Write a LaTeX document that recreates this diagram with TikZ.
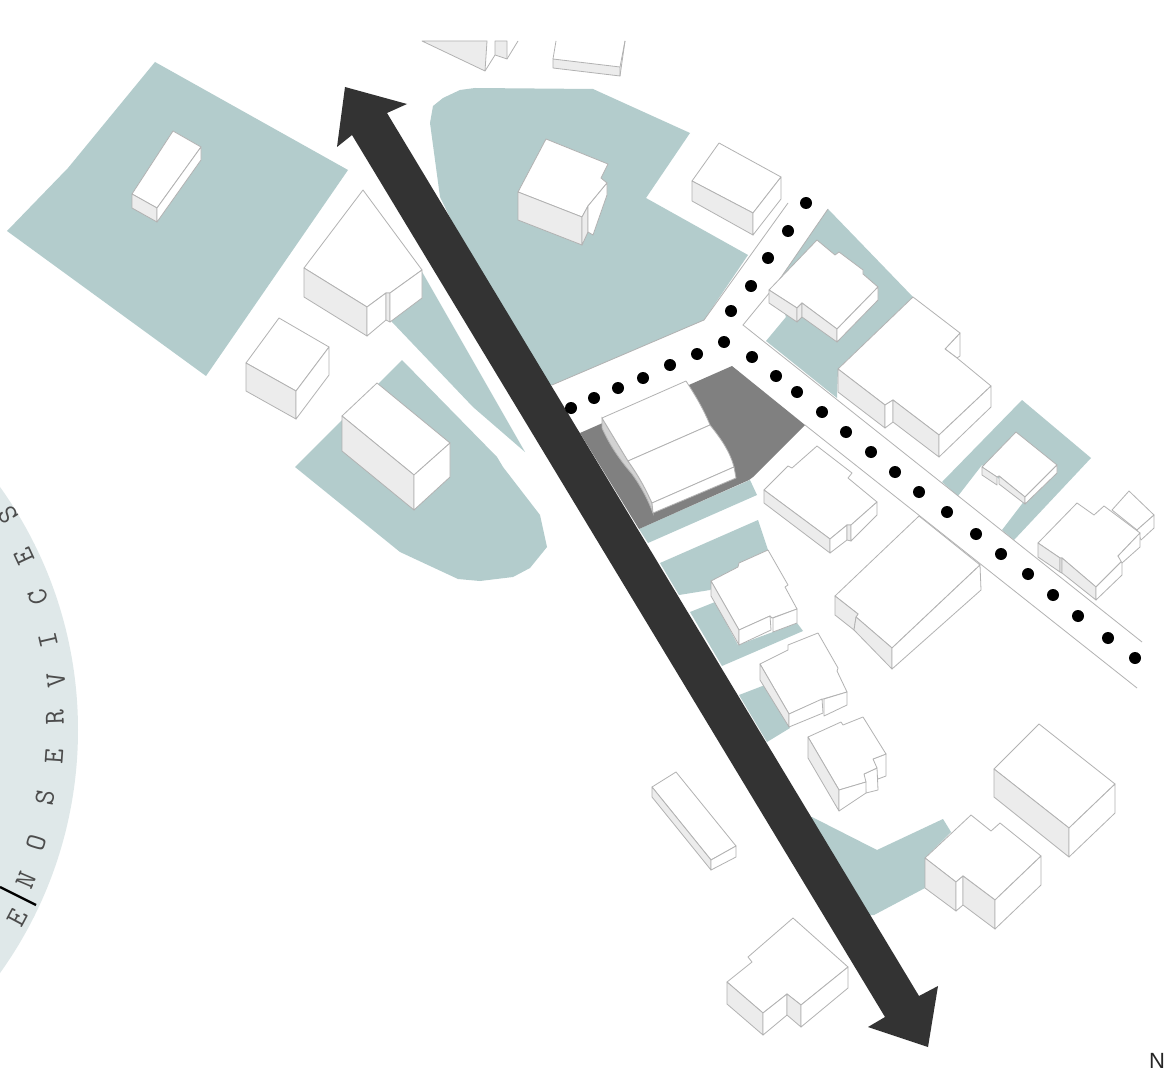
\documentclass[tikz,border=0pt]{standalone}
\usepackage{fontspec}
\newfontfamily\northfont{Liberation Sans}

\begin{document}
\begin{tikzpicture}[x=1pt, y=-1pt,
  greenzone/.style={fill=green1, draw=none},
  roof/.style={fill=white, draw=line1, line width=0.8pt, line join=round},
  sideface/.style={fill=side1, draw=line1, line width=0.8pt, line join=round},
  roadedge/.style={draw=line1, line width=0.8pt},
  roaddot/.style={circle, fill=black, draw=none, inner sep=0pt, minimum size=12pt},
  ringletter/.style={font=\ttfamily\fontsize{29}{29}\selectfont, text=black!70, inner sep=0pt}]
\definecolor{green1}{HTML}{B3CCCC}
\definecolor{ring1}{HTML}{DFE8E9}
\definecolor{side1}{HTML}{ECECEC}
\definecolor{strip1}{HTML}{D2D2D2}
\definecolor{line1}{HTML}{B2B2B2}
\definecolor{site1}{HTML}{808080}
\definecolor{arrow1}{HTML}{333333}
\clip (0,0) rectangle (1169,1083);
\fill[white] (0,0) rectangle (1169,1083);

% Ring with lettering
\fill[ring1] (-339.5,730) circle (417.5);
\draw[black, line width=2.4pt] (0,887) -- (36,905);
\node (ringS) [ringletter, rotate=122] at (8,515) {S};
\node (ringE) [ringletter, rotate=115] at (24,556) {E};
\node (ringC) [ringletter, rotate=108] at (38,597) {C};
\node (ringI) [ringletter, rotate=103] at (48,640) {I};
\node (ringV) [ringletter, rotate=97] at (56,680) {V};
\node (ringR) [ringletter, rotate=92] at (55,717) {R};
\node (ringEb) [ringletter, rotate=86] at (54,756) {E};
\node (ringSb) [ringletter, rotate=80] at (45,798) {S};
\node (ringO) [ringletter, rotate=73] at (36,843) {O};
\node (ringN) [ringletter, rotate=67] at (26,880) {N};
\node (ringEc) [ringletter, rotate=62] at (17,918) {E};

% Green areas
\fill[greenzone] (7,231) -- (68,168) -- (155,62) -- (348,170) -- (206,376) -- cycle;
\fill[greenzone] (593,89) -- (690,133) -- (646,198) -- (748,255) -- (704,320) -- (552,385) -- (540,385) -- (500,320) -- (440,197) -- (430,123) -- (433,106) -- (443,98) -- (460,90) -- (475,88) -- cycle;
\fill[greenzone] (421,270) -- (525,452) -- (473,407) -- (392,322) -- (380,300) -- cycle;
\fill[greenzone] (402,360) -- (497,457) -- (503,467) -- (540,515) -- (547,547) -- (530,568) -- (513,577) -- (480,581) -- (458,579) -- (400,552) -- (295,467) -- cycle;
\fill[greenzone] (828,209) -- (913,297) -- (838,369) -- (837,398) -- (766,341) -- (786,317) -- (775,286) -- cycle;
\fill[greenzone] (1022,400) -- (1091,458) -- (1014,540) -- (1002,530) -- (1025,500) -- (982,465) -- (958,496) -- (942,482) -- cycle;
\fill[greenzone] (639,529) -- (750,480) -- (757,495) -- (648,543) -- cycle;
\fill[greenzone] (758,520) -- (768,550) -- (710,590) -- (679,595) -- (660,563) -- cycle;
\fill[greenzone] (690,612) -- (715,602) -- (738,645) -- (797,623) -- (803,631) -- (722,666) -- cycle;
\fill[greenzone] (739,695) -- (765,685) -- (790,728) -- (767,742) -- cycle;
\fill[greenzone] (812,817) -- (877,850) -- (943,819) -- (951,832) -- (925,858) -- (925,888) -- (874,915) -- (840,915) -- (790,817) -- cycle;

% Site
\fill[site1] (580,433) -- (732,366) -- (805,425) -- (753,477) -- (749,480) -- (639,529) -- cycle;

% Road edges
\draw[roadedge] (552,385) -- (704,320) -- (788,203);
\draw[roadedge] (828,209) -- (775,286) -- (743,325) -- (1142,642);
\draw[roadedge] (805,425) -- (1137,688);

% Main building
\filldraw[fill=strip1, draw=line1, line width=0.8pt] (602,418) -- (602,428) .. controls (610,446) and (620,460) .. (632,474) .. controls (642,488) and (648,500) .. (653,513) -- (652,503) .. controls (645,488) and (640,478) .. (628,461) -- cycle;
\filldraw[roof] (602,418) -- (686,381) .. controls (695,395) and (703,408) .. (710,425) -- (628,461) -- cycle;
\filldraw[roof] (628,461) -- (710,425) .. controls (722,440) and (730,452) .. (734,467) -- (652,503) .. controls (645,488) and (640,478) .. (628,461) -- cycle;
\filldraw[roof] (652,503) -- (734,467) -- (736,478) -- (653,513) -- cycle;

% Buildings, north-west
\filldraw[roof] (173,131) -- (201,147) -- (157,208) -- (132,194) -- cycle;
\filldraw[sideface] (132,194) -- (157,208) -- (157,222) -- (132,208) -- cycle;
\filldraw[roof] (157,208) -- (201,147) -- (201,160) -- (157,222) -- cycle;

\filldraw[roof] (363,190) -- (422,270) -- (390,293) -- (386,293) -- (367,307) -- (304,268) -- cycle;
\filldraw[sideface] (304,268) -- (367,307) -- (367,336) -- (304,297) -- cycle;
\filldraw[roof] (367,307) -- (386,293) -- (386,320) -- (367,336) -- cycle;
\filldraw[sideface] (386,293) -- (390,293) -- (390,322) -- (386,320) -- cycle;
\filldraw[roof] (390,293) -- (422,270) -- (422,298) -- (390,322) -- cycle;

\filldraw[roof] (279,318) -- (329,347) -- (296,391) -- (246,363) -- cycle;
\filldraw[sideface] (246,363) -- (296,391) -- (296,419) -- (246,391) -- cycle;
\filldraw[roof] (296,391) -- (329,347) -- (329,375) -- (296,419) -- cycle;

\filldraw[roof] (377,383) -- (450,443) -- (414,475) -- (342,416) -- cycle;
\filldraw[sideface] (342,416) -- (414,475) -- (414,510) -- (342,451) -- cycle;
\filldraw[roof] (414,475) -- (450,443) -- (450,477) -- (414,510) -- cycle;

% Buildings, north
\filldraw[sideface] (422,41) -- (487,41) -- (485,71) -- cycle;
\draw[roadedge] (485,71) -- (495,55);
\filldraw[sideface] (495,41) -- (507,41) -- (507,59) -- (495,55) -- cycle;
\draw[roadedge] (507,59) -- (518,41);
\draw[roadedge] (556,41) -- (553,59);
\draw[roadedge] (625,41) -- (620,67);
\filldraw[sideface] (553,59) -- (620,67) -- (620,76) -- (553,68) -- cycle;
\draw[roadedge] (620,76) -- (625,41);

\filldraw[roof] (546,139) -- (608,164) -- (601,178) -- (607,183) -- (588,206) -- (582,217) -- (518,192) -- cycle;
\filldraw[sideface] (518,192) -- (582,217) -- (582,245) -- (518,220) -- cycle;
\filldraw[sideface] (582,217) -- (588,206) -- (588,232) -- (582,245) -- cycle;
\filldraw[roof] (588,206) -- (607,183) -- (607,195) -- (593,235) -- (588,232) -- cycle;

\filldraw[roof] (719,143) -- (781,177) -- (753,213) -- (692,181) -- cycle;
\filldraw[sideface] (692,181) -- (753,213) -- (753,235) -- (692,201) -- cycle;
\filldraw[roof] (753,213) -- (781,177) -- (781,199) -- (753,235) -- cycle;

% Buildings, north-east
\filldraw[roof] (817,240) -- (835,255) -- (839,252) -- (863,270) -- (863,274) -- (878,287) -- (837,329) -- (802,303) -- (797,308) -- (769,290) -- cycle;
\filldraw[sideface] (769,290) -- (797,308) -- (797,322) -- (769,303) -- cycle;
\filldraw[sideface] (797,308) -- (802,303) -- (802,317) -- (797,322) -- cycle;
\filldraw[sideface] (802,303) -- (837,329) -- (837,342) -- (802,317) -- cycle;
\filldraw[roof] (837,329) -- (878,287) -- (878,300) -- (837,342) -- cycle;

\filldraw[roof] (945,349) -- (960,333) -- (960,356) -- (957,358) -- cycle;
\filldraw[roof] (913,297) -- (960,333) -- (945,349) -- (957,358) -- (991,386) -- (939,435) -- (893,400) -- (885,405) -- (838,369) -- cycle;
\filldraw[sideface] (838,369) -- (885,405) -- (885,428) -- (838,392) -- cycle;
\filldraw[roof] (885,405) -- (893,400) -- (893,422) -- (885,428) -- cycle;
\filldraw[sideface] (893,400) -- (939,435) -- (939,457) -- (893,422) -- cycle;
\filldraw[roof] (939,435) -- (991,386) -- (991,407) -- (939,457) -- cycle;

\filldraw[roof] (1016,432) -- (1057,465) -- (1025,497) -- (999,476) -- (997,477) -- (982,467) -- cycle;
\filldraw[sideface] (982,467) -- (997,477) -- (997,485) -- (982,475) -- cycle;
\filldraw[sideface] (999,476) -- (1025,497) -- (1025,504) -- (999,484) -- cycle;
\filldraw[roof] (1025,497) -- (1057,465) -- (1057,473) -- (1025,504) -- cycle;

% Buildings, east of the road
\filldraw[roof] (1112,510) -- (1129,491) -- (1154,515) -- (1137,530) -- cycle;
\filldraw[roof] (1137,530) -- (1154,515) -- (1154,528) -- (1141,540) -- cycle;
\filldraw[roof] (1077,503) -- (1094,515) -- (1104,506) -- (1140,533) -- (1118,556) -- (1122,561) -- (1096,587) -- (1062,558) -- (1060,558) -- (1038,543) -- cycle;
\filldraw[sideface] (1038,543) -- (1060,558) -- (1060,572) -- (1038,557) -- cycle;
\filldraw[sideface] (1060,558) -- (1062,558) -- (1062,573) -- (1060,572) -- cycle;
\filldraw[sideface] (1062,558) -- (1096,587) -- (1096,600) -- (1062,573) -- cycle;
\filldraw[roof] (1096,587) -- (1122,561) -- (1122,575) -- (1096,600) -- cycle;
\filldraw[roof] (1118,556) -- (1140,533) -- (1140,547) -- (1122,563) -- cycle;

% Buildings, along the arrow
\filldraw[roof] (764,490) -- (788,466) -- (792,468) -- (817,446) -- (852,473) -- (848,478) -- (877,502) -- (851,525) -- (847,525) -- (830,539) -- cycle;
\filldraw[sideface] (764,490) -- (830,539) -- (830,553) -- (764,503) -- cycle;
\filldraw[roof] (830,539) -- (847,525) -- (847,540) -- (830,553) -- cycle;
\filldraw[sideface] (847,525) -- (851,525) -- (851,541) -- (847,540) -- cycle;
\filldraw[roof] (851,525) -- (877,502) -- (877,515) -- (851,541) -- cycle;

\filldraw[roof] (919,516) -- (980,565) -- (892,648) -- (856,617) -- (858,614) -- (835,596) -- cycle;
\filldraw[sideface] (835,596) -- (858,614) -- (856,617) -- (854,630) -- (835,615) -- cycle;
\filldraw[sideface] (856,617) -- (892,648) -- (892,669) -- (854,630) -- cycle;
\filldraw[roof] (892,648) -- (980,565) -- (981,590) -- (892,669) -- cycle;

\filldraw[roof] (768,550) -- (788,585) -- (785,587) -- (797,609) -- (772,618) -- (770,616) -- (739,630) -- (711,581) -- (738,567) -- (739,563) -- cycle;
\filldraw[sideface] (711,581) -- (739,630) -- (739,645) -- (711,596) -- cycle;
\filldraw[roof] (739,630) -- (770,616) -- (771,630) -- (739,645) -- cycle;
\filldraw[roof] (773,618) -- (797,609) -- (797,623) -- (773,632) -- cycle;

\filldraw[roof] (818,633) -- (838,668) -- (837,671) -- (847,692) -- (823,699) -- (789,714) -- (760,664) -- (788,650) -- (788,645) -- cycle;
\filldraw[sideface] (760,664) -- (789,714) -- (789,727) -- (760,680) -- cycle;
\filldraw[roof] (789,714) -- (822,699) -- (823,713) -- (789,727) -- cycle;
\filldraw[roof] (824,699) -- (847,692) -- (847,705) -- (824,716) -- cycle;

\filldraw[roof] (873,759) -- (886,754) -- (886,776) -- (878,779) -- cycle;
\filldraw[roof] (864,774) -- (877,768) -- (878,790) -- (866,793) -- cycle;
\filldraw[roof] (808,737) -- (841,722) -- (843,725) -- (863,717) -- (886,754) -- (873,759) -- (877,768) -- (864,774) -- (866,782) -- (839,790) -- cycle;
\filldraw[sideface] (808,737) -- (839,790) -- (839,811) -- (808,758) -- cycle;
\filldraw[roof] (839,790) -- (866,782) -- (866,793) -- (839,811) -- cycle;

\filldraw[roof] (676,772) -- (736,846) -- (711,860) -- (652,787) -- cycle;
\filldraw[sideface] (652,787) -- (711,860) -- (711,870) -- (652,797) -- cycle;
\filldraw[roof] (711,860) -- (736,846) -- (736,857) -- (711,870) -- cycle;

% Buildings, south
\filldraw[roof] (1039,724) -- (1115,784) -- (1069,828) -- (994,769) -- cycle;
\filldraw[sideface] (994,769) -- (1069,828) -- (1069,857) -- (994,797) -- cycle;
\filldraw[roof] (1069,828) -- (1115,784) -- (1115,813) -- (1069,857) -- cycle;

\filldraw[roof] (971,815) -- (991,831) -- (1000,823) -- (1041,856) -- (995,900) -- (963,876) -- (956,882) -- (925,858) -- cycle;
\filldraw[sideface] (925,858) -- (956,882) -- (956,911) -- (925,888) -- cycle;
\filldraw[roof] (956,882) -- (963,876) -- (963,905) -- (956,911) -- cycle;
\filldraw[sideface] (963,876) -- (995,900) -- (995,929) -- (963,905) -- cycle;
\filldraw[roof] (995,900) -- (1041,856) -- (1041,885) -- (995,929) -- cycle;

\filldraw[roof] (793,918) -- (848,967) -- (801,1005) -- (787,994) -- (763,1013) -- (727,982) -- (752,962) -- (748,957) -- cycle;
\filldraw[sideface] (727,982) -- (763,1013) -- (763,1035) -- (727,1004) -- cycle;
\filldraw[roof] (763,1013) -- (787,994) -- (787,1015) -- (763,1035) -- cycle;
\filldraw[sideface] (787,994) -- (801,1005) -- (801,1027) -- (787,1015) -- cycle;
\filldraw[roof] (801,1005) -- (848,967) -- (848,988) -- (801,1027) -- cycle;

% Double arrow
\fill[arrow1] (345,87) -- (407,104) -- (387,113) -- (919,996) -- (938,986) -- (928,1047) -- (868,1027) -- (885,1017) -- (352,135) -- (337,147) -- cycle;

% Dots along the roads
\node (dotA) [roaddot] at (571,408) {};
\node (dotB) [roaddot] at (594,398) {};
\node (dotC) [roaddot] at (618,388) {};
\node (dotD) [roaddot] at (643,378) {};
\node (dotE) [roaddot] at (670,365) {};
\node (dotF) [roaddot] at (697,354) {};
\node (dotG) [roaddot] at (724,342) {};
\node (dotH) [roaddot] at (731,311) {};
\node (dotI) [roaddot] at (751,286) {};
\node (dotJ) [roaddot] at (768,258) {};
\node (dotK) [roaddot] at (788,231) {};
\node (dotL) [roaddot] at (806,203) {};
\node (dotM) [roaddot] at (752,357) {};
\node (dotN) [roaddot] at (776,376) {};
\node (dotO) [roaddot] at (797,392) {};
\node (dotP) [roaddot] at (822,412) {};
\node (dotQ) [roaddot] at (846,432) {};
\node (dotR) [roaddot] at (871,452) {};
\node (dotS) [roaddot] at (895,472) {};
\node (dotT) [roaddot] at (919,492) {};
\node (dotU) [roaddot] at (947,512) {};
\node (dotV) [roaddot] at (976,534) {};
\node (dotW) [roaddot] at (1001,554) {};
\node (dotX) [roaddot] at (1028,574) {};
\node (dotY) [roaddot] at (1053,595) {};
\node (dotZ) [roaddot] at (1078,616) {};
\node (dotAa) [roaddot] at (1108,638) {};
\node (dotAb) [roaddot] at (1135,658) {};

% North label
\node (north) [font=\northfont\fontsize{22}{22}\selectfont, text=black!85, inner sep=0pt] at (1157,1061) {N};
\end{tikzpicture}
\end{document}
